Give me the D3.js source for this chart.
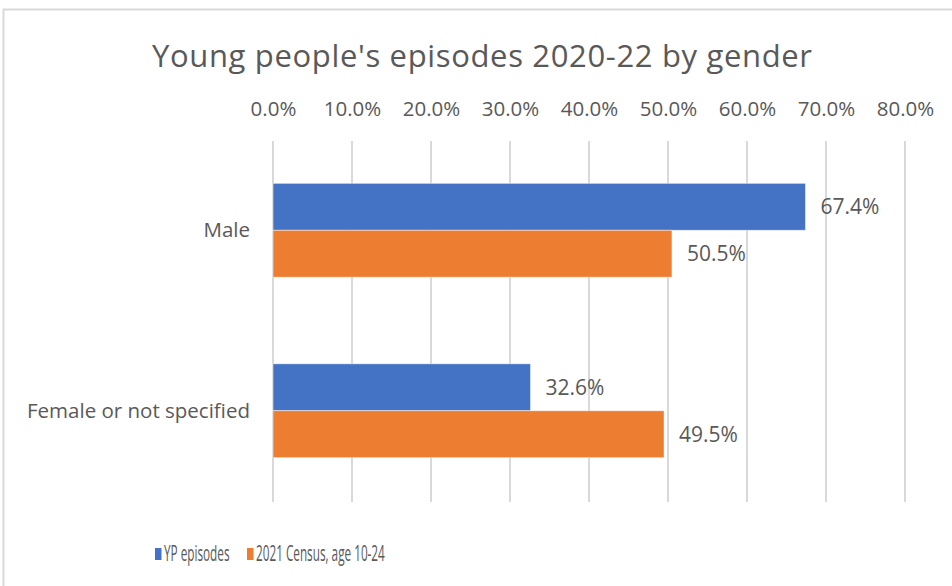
<!DOCTYPE html>
<head>
  <meta charset="utf-8">
  <script src="https://d3js.org/d3.v7.min.js"></script>
  <style>
    body { margin:0; background:#fff; }
    svg { display:block; }
    text { font-family: "Open Sans", sans-serif; fill:#595959; }
  </style>
</head>
<body>
  <svg width="952" height="586"></svg>
  <script>
    var title = "Young people's episodes 2020-22 by gender";
    var categories = ['Male', 'Female or not specified'];
    var seriesNames = ['YP episodes', '2021 Census, age 10-24'];
    var ypEpisodes = [67.4, 32.6];
    var census = [50.5, 49.5];
    var xTicks = [0, 10, 20, 30, 40, 50, 60, 70, 80];
    var colors = ['#4472C4', '#ED7D31'];

    var svg = d3.select('svg');

    // chart frame (runs off the right and bottom of the window)
    svg.append('path')
      .attr('d', 'M3.5,600 V9.5 H960')
      .attr('fill', 'none')
      .attr('stroke', '#d9d9d9')
      .attr('stroke-width', 2);

    svg.append('text')
      .attr('x', 482).attr('y', 67)
      .attr('text-anchor', 'middle')
      .attr('textLength', 660)
      .attr('lengthAdjust', 'spacing')
      .style('font-size', '31px')
      .text(title);

    var x = d3.scaleLinear().domain([0, 80]).range([273, 905]);
    var y = d3.scaleBand().domain(categories).range([140, 501])
      .paddingInner(0.48).paddingOuter(0.24);
    var ySub = d3.scaleBand().domain([0, 1]).range([0, y.bandwidth()]);

    // gridlines
    svg.append('g').selectAll('line')
      .data(xTicks)
      .enter().append('line')
      .attr('x1', d => x(d)).attr('x2', d => x(d))
      .attr('y1', 141).attr('y2', 502)
      .attr('stroke', '#d9d9d9')
      .attr('stroke-width', 2);

    // top axis labels
    var xAxis = d3.axisTop(x)
      .tickValues(xTicks)
      .tickSize(0)
      .tickPadding(0)
      .tickFormat(d => d.toFixed(1) + '%');
    var gx = svg.append('g')
      .attr('transform', 'translate(0,116)')
      .call(xAxis);
    gx.select('.domain').remove();
    gx.selectAll('text').style('font-size', '20.5px').attr('fill', '#595959').attr('dy', 0);

    var yAxis = d3.axisLeft(y).tickSize(0).tickPadding(23);
    var gy = svg.append('g')
      .attr('transform', 'translate(273,0)')
      .call(yAxis);
    gy.select('.domain').remove();
    gy.selectAll('text').style('font-size', '20.5px').attr('fill', '#595959').attr('dy', '0.35em');

    var series = [ypEpisodes, census];
    series.forEach(function(vals, si) {
      var g = svg.append('g');
      g.selectAll('rect')
        .data(vals)
        .enter().append('rect')
        .attr('x', x(0))
        .attr('y', (d, i) => y(categories[i]) + ySub(si))
        .attr('width', d => x(d) - x(0))
        .attr('height', ySub.bandwidth())
        .attr('fill', colors[si])
        .attr('stroke', '#fff')
        .attr('stroke-opacity', 0.6)
        .attr('stroke-width', 0.8);
      g.selectAll('text')
        .data(vals)
        .enter().append('text')
        .attr('x', d => x(d) + 15)
        .attr('y', (d, i) => y(categories[i]) + ySub(si) + ySub.bandwidth() / 2)
        .attr('dy', '0.35em')
        .style('font-size', '21px')
        .attr('fill', '#404040')
        .text(d => d.toFixed(1) + '%');
    });

    // legend: the reference uses a narrow font, so squeeze it horizontally
    var legendX = [155, 247];
    var legend = svg.append('g');
    seriesNames.forEach(function(name, i) {
      legend.append('rect')
        .attr('x', legendX[i]).attr('y', 548)
        .attr('width', 6.5).attr('height', 12)
        .attr('fill', colors[i]);
      legend.append('g')
        .attr('transform', 'translate(' + [legendX[i] + 9, 554] + ') scale(0.56,1)')
        .append('text')
        .attr('dy', '0.35em')
        .style('font-size', '21px')
        .text(name);
    });
  </script>
</body>
